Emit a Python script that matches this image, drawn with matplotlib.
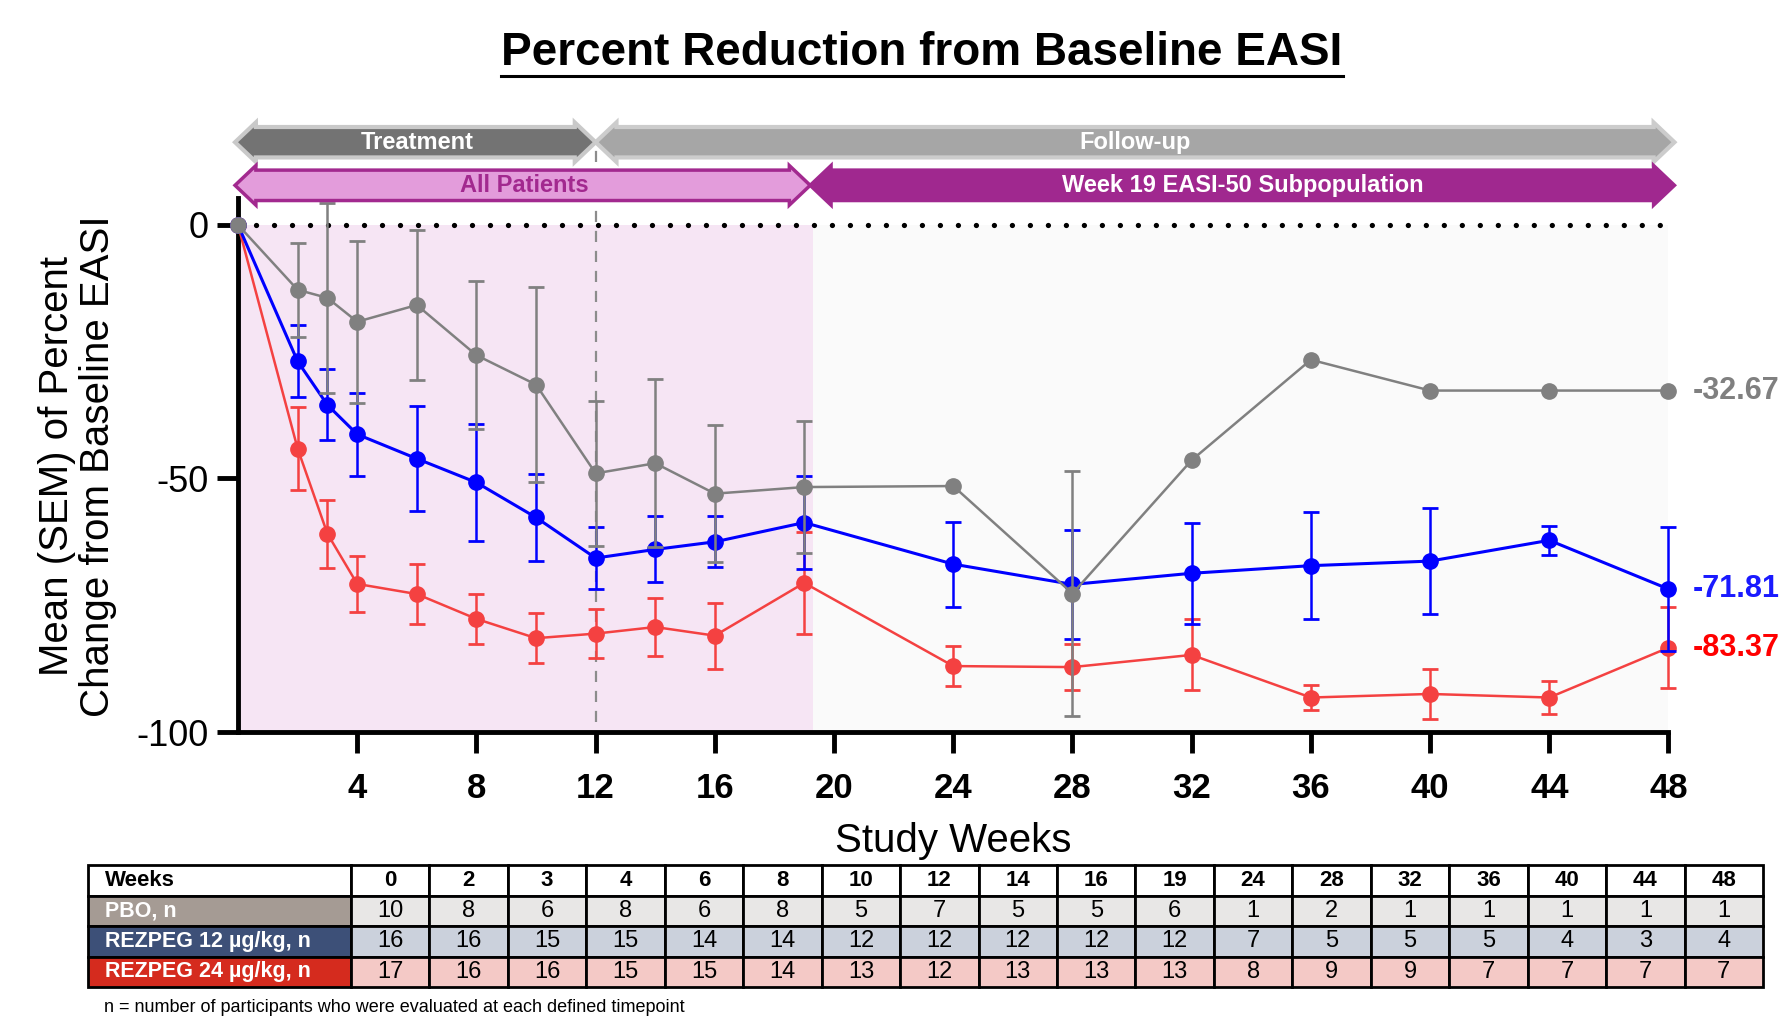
import numpy as np
import matplotlib
matplotlib.use('Agg')
from matplotlib import pyplot as plt
from matplotlib import font_manager
from matplotlib.patches import Polygon, Rectangle
from matplotlib.lines import Line2D

nan = np.nan

# study visits (weeks)
weeks = [0, 2, 3, 4, 6, 8, 10, 12, 14, 16, 19, 24, 28, 32, 36, 40, 44, 48]

# mean percent change from baseline EASI and SEM
pbo_mean = [0, -12.8, -14.4, -19.1, -15.8, -25.7, -31.5, -49.0, -47.0, -53.0, -51.7,
            -51.5, -72.7, -46.4, -26.6, -32.67, -32.67, -32.67]
pbo_sem = [nan, 9.3, 18.8, 16.0, 14.8, 14.6, 19.3, 14.3, 16.6, 13.5, 13.0,
           nan, 24.1, nan, nan, nan, nan, nan]

rez12_mean = [0, -26.9, -35.5, -41.3, -46.1, -50.8, -57.7, -65.7, -64.0, -62.5, -58.7,
              -66.9, -70.9, -68.7, -67.2, -66.3, -62.2, -71.81]
rez12_sem = [nan, 7.1, 7.0, 8.2, 10.3, 11.6, 8.5, 6.1, 6.5, 5.0, 9.2,
             8.4, 10.7, 10.0, 10.6, 10.5, 2.9, 12.3]

rez24_mean = [0, -44.1, -60.9, -70.8, -72.8, -77.7, -81.5, -80.6, -79.3, -81.0, -70.6,
              -87.0, -87.2, -84.8, -93.2, -92.5, -93.2, -83.37]
rez24_sem = [nan, 8.2, 6.7, 5.5, 5.9, 4.9, 4.9, 4.9, 5.7, 6.5, 10.0,
             4.0, 4.6, 7.0, 2.5, 4.9, 3.2, 8.0]

# participants evaluated at each timepoint
pbo_n = [10, 8, 6, 8, 6, 8, 5, 7, 5, 5, 6, 1, 2, 1, 1, 1, 1, 1]
rez12_n = [16, 16, 15, 15, 14, 14, 12, 12, 12, 12, 12, 7, 5, 5, 5, 4, 3, 4]
rez24_n = [17, 16, 16, 15, 15, 14, 13, 12, 13, 13, 13, 8, 9, 9, 7, 7, 7, 7]

row_labels = ['PBO, n', 'REZPEG 12 \u00b5g/kg, n', 'REZPEG 24 \u00b5g/kg, n']

# period banners
treatment_end = 12
subpop_start = 19.2
banner_end = 48.2


def has_font(name):
    try:
        font_manager.findfont(name, fallback_to_default=False)
        return True
    except ValueError:
        return False


base_font = 'Liberation Sans' if has_font('Liberation Sans') else 'DejaVu Sans'
narrow_font = 'Liberation Sans Narrow' if has_font('Liberation Sans Narrow') else base_font
plt.rcParams['font.family'] = [base_font, 'DejaVu Sans']

fig = plt.figure(figsize=(17.81, 10.33), dpi=100)
ax = fig.add_axes([238 / 1781, 1 - 732 / 1033, (1668.5 - 238) / 1781, (732 - 198) / 1033])
ax.set_xlim(0, 48)
ax.set_ylim(-100, 5.3)

# shaded backgrounds
ax.axvspan(0, subpop_start + 0.1, ymin=0, ymax=100 / 105.3, color='#f6e5f4', zorder=0, lw=0)
ax.axvspan(subpop_start + 0.1, 48, ymin=0, ymax=100 / 105.3, color='#fafafa', zorder=0, lw=0)

# zero reference and end-of-treatment line
ax.plot([0, 48], [0, 0], color='black', lw=3.8, linestyle=(0, (0.01, 3.4)),
        dash_capstyle='round', zorder=1, clip_on=False)
ax.plot([treatment_end, treatment_end], [-98, 16], color='#8c8c8c', lw=1.6,
        linestyle=(0, (5, 4)), zorder=1, clip_on=False)

series = [
    (rez24_mean, rez24_sem, '#f44141', 1.8, 3),
    (rez12_mean, rez12_sem, '#0000ff', 2.2, 4),
    (pbo_mean, pbo_sem, '#808080', 1.8, 5),
]
for mean, sem, color, lw, z in series:
    ax.errorbar(weeks, mean, yerr=sem, color=color, lw=lw, elinewidth=1.8,
                capsize=6, capthick=2, marker='o', markersize=11, zorder=z, clip_on=False)

end_labels = [(pbo_mean, '#808080'), (rez12_mean, '#1a1aff'), (rez24_mean, '#ff0000')]
for mean, color in end_labels:
    ax.text(48.8, mean[-1], f'{mean[-1]:.2f}', color=color, fontsize=22,
            fontweight='bold', va='center', ha='left', clip_on=False)


def banner(x0, x1, yc, head, body, tip, face, edge, lw):
    pts = [(x0, yc), (x0 + tip, yc + head), (x0 + tip, yc + body), (x1 - tip, yc + body),
           (x1 - tip, yc + head), (x1, yc), (x1 - tip, yc - head), (x1 - tip, yc - body),
           (x0 + tip, yc - body), (x0 + tip, yc - head)]
    ax.add_patch(Polygon(pts, closed=True, facecolor=face, edgecolor=edge, lw=lw,
                         clip_on=False, zorder=6, joinstyle='miter'))


banner(-0.1, treatment_end, 16.3, 3.9, 3.0, 0.7, '#737373', '#c9c9c9', 3)
banner(treatment_end, banner_end, 16.3, 3.9, 3.0, 0.7, '#a6a6a6', '#cccccc', 3)
banner(-0.1, subpop_start, 7.8, 3.9, 3.0, 0.7, '#e39cdb', '#a2298f', 2.5)
banner(subpop_start, banner_end, 7.8, 3.9, 3.0, 0.7, '#a0288f', '#a0288f', 2.5)

banner_font = dict(fontsize=17, fontweight='bold', family=narrow_font,
                   ha='center', va='center', zorder=7)
ax.text(treatment_end / 2, 16.3, 'Treatment', color='white', **banner_font)
ax.text((treatment_end + banner_end) / 2, 16.3, 'Follow-up', color='white', **banner_font)
ax.text(subpop_start / 2, 7.8, 'All Patients', color='#a2298f', **banner_font)
ax.text((subpop_start + banner_end) / 2, 7.8, 'Week 19 EASI-50 Subpopulation',
        color='white', **banner_font)

# axes styling
for side in ['top', 'right']:
    ax.spines[side].set_visible(False)
for side in ['left', 'bottom']:
    ax.spines[side].set_linewidth(3.5)
ax.set_facecolor('none')
ax.set_yticks([0, -50, -100])
ax.set_yticklabels(['0', '-50', '-100'], fontsize=26)
ax.set_xticks(range(4, 49, 4))
ax.set_xticklabels([str(w) for w in range(4, 49, 4)], fontsize=25, fontweight='bold')
ax.tick_params(axis='both', length=15, width=3.5, direction='out')
ax.tick_params(axis='y', pad=6)
ax.tick_params(axis='x', pad=14)
ax.set_xlabel('Study Weeks', fontsize=29, labelpad=12)

fig.text(78 / 1781, 1 - 466 / 1033, 'Mean (SEM) of Percent\nChange from Baseline EASI',
         rotation=90, fontsize=29, ha='center', va='center', linespacing=1.1)

title = fig.text(922 / 1781, 1 - 53 / 1033, 'Percent Reduction from Baseline EASI',
                 fontsize=33, fontweight='bold', family=narrow_font, ha='center', va='center')

# n table in pixel coordinates
tab = fig.add_axes([0, 0, 1, 1])
tab.set_xlim(0, 1781)
tab.set_ylim(1033, 0)
tab.axis('off')
tab.patch.set_alpha(0)

left, split, right = 88, 351, 1763
row_top = [865, 895.5, 926, 956.5]
row_h = 30.5
col_w = (right - split) / len(weeks)
label_colors = ['#a59b94', '#3d5078', '#d52b1e']
cell_colors = ['#e8e7e6', '#cbd1dc', '#f4c9c6']
row_data = [pbo_n, rez12_n, rez24_n]

tab.add_patch(Rectangle((left, row_top[0]), split - left, row_h, facecolor='white',
                        edgecolor='black', lw=2))
tab.text(left + 17, row_top[0] + row_h / 2, 'Weeks', fontsize=16, fontweight='bold',
         va='center', ha='left')
for j, w in enumerate(weeks):
    x = split + j * col_w
    tab.add_patch(Rectangle((x, row_top[0]), col_w, row_h, facecolor='white',
                            edgecolor='black', lw=2))
    tab.text(x + col_w / 2, row_top[0] + row_h / 2, str(w), fontsize=16, fontweight='bold',
             family=narrow_font, va='center', ha='center')

for i, (lab, vals) in enumerate(zip(row_labels, row_data)):
    y = row_top[i + 1]
    tab.add_patch(Rectangle((left, y), split - left, row_h, facecolor=label_colors[i],
                            edgecolor='black', lw=2))
    tab.text(left + 17, y + row_h / 2, lab, fontsize=15.5, fontweight='bold', color='white',
             va='center', ha='left')
    for j, v in enumerate(vals):
        x = split + j * col_w
        tab.add_patch(Rectangle((x, y), col_w, row_h, facecolor=cell_colors[i],
                                edgecolor='black', lw=2))
        tab.text(x + col_w / 2, y + row_h / 2, str(v), fontsize=17, family=narrow_font,
                 va='center', ha='center')

tab.text(104, 1008, 'n = number of participants who were evaluated at each defined timepoint',
         fontsize=13, family=narrow_font, va='center', ha='left')

# underline the title
fig.canvas.draw()
bb = title.get_window_extent()
uy = bb.y0 - 1
fig.add_artist(Line2D([bb.x0 / fig.bbox.width, bb.x1 / fig.bbox.width],
                      [uy / fig.bbox.height, uy / fig.bbox.height], color='black', lw=2.2))

fig.savefig('out.png', dpi=100)
